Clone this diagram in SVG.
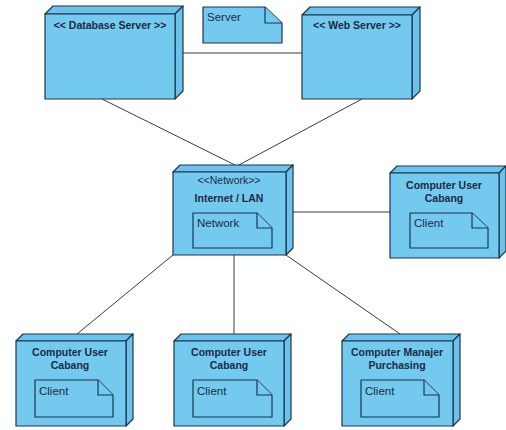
<svg xmlns="http://www.w3.org/2000/svg" width="506" height="430" viewBox="0 0 506 430">
  <style>
    .face { fill: #74c9ef; stroke: #1b3550; stroke-width: 1.2; stroke-linejoin: round; }
    .shade { fill: #6cc2ea; stroke: #1b3550; stroke-width: 1.2; stroke-linejoin: round; }
    .note { fill: #74c9ef; stroke: #1b3550; stroke-width: 1.2; stroke-linejoin: round; }
    .wire { stroke: #3a3a3a; stroke-width: 1; fill: none; }
    .title { font-family: "Liberation Sans", Arial, sans-serif; font-size: 10.5px; font-weight: bold; fill: #1c2a45; text-anchor: middle; }
    .stereo { font-family: "Liberation Sans", Arial, sans-serif; font-size: 10.5px; fill: #1c2a45; text-anchor: middle; }
    .label { font-family: "Liberation Sans", Arial, sans-serif; font-size: 11.5px; fill: #1c2a45; }
  </style>
  <rect width="506" height="430" fill="#ffffff"/>

  <!-- connectors -->
  <g id="connectors">
    <line class="wire" x1="175" y1="53" x2="302" y2="53"/>
    <line class="wire" x1="102" y1="99" x2="237" y2="166"/>
    <line class="wire" x1="362" y1="99" x2="237" y2="166"/>
    <line class="wire" x1="293" y1="212" x2="390" y2="212"/>
    <line class="wire" x1="173" y1="255" x2="77" y2="334"/>
    <line class="wire" x1="234" y1="255" x2="234" y2="335"/>
    <line class="wire" x1="286" y1="255" x2="400" y2="334"/>
  </g>

  <!-- Database server node -->
  <g id="database-server">
    <polygon class="shade" points="45,14 53,6 183,6 175,14"/>
    <polygon class="shade" points="175,14 183,6 183,91 175,99"/>
    <rect class="face" x="45" y="14" width="130" height="85"/>
    <text class="title" x="110" y="29">&lt;&lt; Database Server &gt;&gt;</text>
  </g>

  <!-- Server note -->
  <g id="server-note">
    <path class="note" d="M203,7 H265 L282,23 V43 H203 Z"/>
    <path class="note" d="M265,7 V23 H282"/>
    <text class="label" x="207" y="21">Server</text>
  </g>

  <!-- Web server node -->
  <g id="web-server">
    <polygon class="shade" points="302,15 310,7 420,7 412,15"/>
    <polygon class="shade" points="412,15 420,7 420,91 412,99"/>
    <rect class="face" x="302" y="15" width="110" height="84"/>
    <text class="title" x="357" y="29">&lt;&lt; Web Server &gt;&gt;</text>
  </g>

  <!-- Network node -->
  <g id="network">
    <polygon class="shade" points="173,172 180,165 293,165 286,172"/>
    <polygon class="shade" points="286,172 293,165 293,248 286,255"/>
    <rect class="face" x="173" y="172" width="113" height="83"/>
    <text class="stereo" x="229" y="184">&lt;&lt;Network&gt;&gt;</text>
    <text class="title" x="229" y="202">Internet / LAN</text>
    <path class="note" d="M193,213 H257 L272,228 V248 H193 Z"/>
    <path class="note" d="M257,213 V228 H272"/>
    <text class="label" x="197" y="227">Network</text>
  </g>

  <!-- Client node: right -->
  <g id="client-right">
    <polygon class="shade" points="390,173 397,166 506,166 499,173"/>
    <polygon class="shade" points="499,173 506,166 506,251 499,258"/>
    <rect class="face" x="390" y="173" width="109" height="85"/>
    <text class="title" x="444" y="189">Computer User</text>
    <text class="title" x="444" y="202">Cabang</text>
    <path class="note" d="M410,213 H472 L488,228 V248 H410 Z"/>
    <path class="note" d="M472,213 V228 H488"/>
    <text class="label" x="414" y="227">Client</text>
  </g>

  <!-- Client node: bottom left -->
  <g id="client-left">
    <polygon class="shade" points="16,341 23,334 133,334 126,341"/>
    <polygon class="shade" points="126,341 133,334 133,419 126,426"/>
    <rect class="face" x="16" y="341" width="110" height="85"/>
    <text class="title" x="70" y="356">Computer User</text>
    <text class="title" x="70" y="369">Cabang</text>
    <path class="note" d="M35,380 H98 L113,395 V417 H35 Z"/>
    <path class="note" d="M98,380 V395 H113"/>
    <text class="label" x="39" y="395">Client</text>
  </g>

  <!-- Client node: bottom middle -->
  <g id="client-middle">
    <polygon class="shade" points="174,341 181,334 291,334 284,341"/>
    <polygon class="shade" points="284,341 291,334 291,419 284,426"/>
    <rect class="face" x="174" y="341" width="110" height="85"/>
    <text class="title" x="229" y="356">Computer User</text>
    <text class="title" x="229" y="369">Cabang</text>
    <path class="note" d="M193,380 H257 L272,395 V417 H193 Z"/>
    <path class="note" d="M257,380 V395 H272"/>
    <text class="label" x="197" y="395">Client</text>
  </g>

  <!-- Purchasing manager node -->
  <g id="client-purchasing">
    <polygon class="shade" points="342,341 349,334 460,334 453,341"/>
    <polygon class="shade" points="453,341 460,334 460,419 453,426"/>
    <rect class="face" x="342" y="341" width="111" height="85"/>
    <text class="title" x="397" y="356">Computer Manajer</text>
    <text class="title" x="397" y="369">Purchasing</text>
    <path class="note" d="M361,380 H424 L439,395 V417 H361 Z"/>
    <path class="note" d="M424,380 V395 H439"/>
    <text class="label" x="365" y="395">Client</text>
  </g>
</svg>
